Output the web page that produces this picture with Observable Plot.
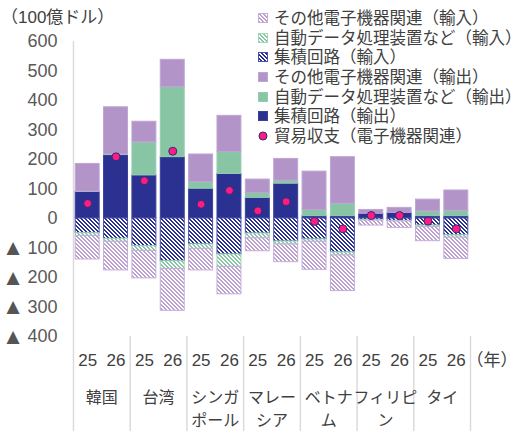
<!DOCTYPE html>
<html>
<head>
<meta charset="utf-8">
<script src="https://cdn.jsdelivr.net/npm/d3@7"></script>
<script src="https://cdn.jsdelivr.net/npm/@observablehq/plot@0.6"></script>
<style>
  body { margin: 0; background: #fff; }
  #chart { position: relative; width: 525px; height: 431px; font-family: "Liberation Sans", "Noto Sans CJK JP", sans-serif; }
  #chart > svg.plot { position: absolute; left: 0; top: 0; }
  .unit { position: absolute; left: 1px; top: 7px; font-size: 17px; color: #404040; line-height: 22px; }
  .legend { position: absolute; left: 258px; top: 8px; font-size: 16.5px; color: #404040; font-family: "Noto Sans CJK JP", sans-serif; }
  .legend .row { display: flex; align-items: center; height: 19.7px; white-space: nowrap; }
  .legend .row span { display: block; height: 19.7px; line-height: 19.7px; overflow: visible; }
  .legend svg { margin-right: 6px; flex: none; }
</style>
</head>
<body>
<svg width="0" height="0" style="position:absolute">
  <defs>
    <!-- pixel-aligned diagonal hatches, period 4px -->
    <pattern id="hatch-ic" patternUnits="userSpaceOnUse" width="4" height="4">
      <rect width="4" height="4" fill="#2b3191"></rect>
      <path d="M0,0h2v1h-2zM1,1h2v1h-2zM2,2h2v1h-2zM3,3h1v1h-1zM0,3h1v1h-1z" fill="#ffffff" shape-rendering="crispEdges"></path>
    </pattern>
    <pattern id="hatch-adp" patternUnits="userSpaceOnUse" width="4" height="4">
      <rect width="4" height="4" fill="#ffffff"></rect>
      <path d="M0,0h2v1h-2zM1,1h2v1h-2zM2,2h2v1h-2zM3,3h1v1h-1zM0,3h1v1h-1z" fill="#88c5a5" shape-rendering="crispEdges"></path>
    </pattern>
    <pattern id="hatch-other" patternUnits="userSpaceOnUse" width="4" height="4">
      <rect width="4" height="4" fill="#ffffff"></rect>
      <path d="M0,0h2v1h-2zM1,1h2v1h-2zM2,2h2v1h-2zM3,3h1v1h-1zM0,3h1v1h-1z" fill="#bb9fcf" shape-rendering="crispEdges"></path>
    </pattern>
  </defs>
</svg>
<div id="chart"></div>
<script>
// Countries (two years each) and years
const countries = ["韓国", "台湾", "シンガ\nポール", "マレー\nシア", "ベトナ\nム", "フィリピ\nン", "タイ"];
const years = ["25", "26"];
const unitLabel = "（100億ドル）";
const yearUnit = "（年）";

// Series, in stacking order (exports upward, imports downward)
const seriesNames = [
  "集積回路（輸出）",
  "自動データ処理装置など（輸出）",
  "その他電子機器関連（輸出）",
  "集積回路（輸入）",
  "自動データ処理装置など（輸入）",
  "その他電子機器関連（輸入）"
];
const balanceName = "貿易収支（電子機器関連）";

// Values in 100億ドル, bar order: 韓国25, 韓国26, 台湾25, 台湾26, ...
const icExport    = [90, 215, 146, 208, 101, 151, 70, 118, 8, 8, 16, 19, 8, 8];
const adpExport   = [1, 2, 112, 237, 22, 74, 16, 10, 21, 42, 0, 0, 16, 18];
const otherExport = [94, 160, 70, 93, 94, 123, 46, 74, 130, 158, 13, 17, 40, 69];
const icImport    = [50, 69, 94, 145, 88, 122, 51, 78, 71, 115, 5, 8, 24, 57];
const adpImport   = [9, 10, 16, 26, 15, 42, 16, 10, 8, 10, 2, 2, 5, 8];
const otherImport = [80, 97, 93, 142, 73, 93, 44, 60, 95, 121, 17, 22, 48, 72];
const balance     = [51, 209, 128, 228, 48, 95, 26, 57, -10, -35, 10, 10, -9, -35];

const yTicks = [-400, -300, -200, -100, 0, 100, 200, 300, 400, 500, 600];

// Styles per series
const navy = "#2b3191", green = "#88c5a5", purple = "#b294c8";
const seriesFill = [navy, green, purple, "url(#hatch-ic)", "url(#hatch-adp)", "url(#hatch-other)"];
const seriesStroke = ["#3a409a", "#96cdb0", "#c0a5d5", "#4a50a5", "#a3d5bb", "#c6aedb"];
const legendOrder = [5, 4, 3, 2, 1, 0];

const seriesValues = [
  icExport, adpExport, otherExport,
  icImport.map(v => -v), adpImport.map(v => -v), otherImport.map(v => -v)
];

const bars = countries.flatMap((c, ci) => years.map((y, yi) => ({i: ci * 2 + yi, country: c, year: y})));
const rows = bars.flatMap(b => seriesNames.map((s, k) => ({i: b.i, series: k, value: seriesValues[k][b.i]})));

const width = 525, height = 431;
const marginTop = 41, marginBottom = 95, marginLeft = 73, marginRight = 55;
const yMin = d3.min(yTicks), yMax = d3.max(yTicks);
// data value at the bottom edge of the svg, so separators run down through the labels
const yLow = yMin - marginBottom * (yMax - yMin) / (height - marginTop - marginBottom);
const nBars = bars.length;
const groupEdges = d3.range(0, countries.length + 1).map(c => c * years.length);

const fontFamily = "'Liberation Sans', 'Noto Sans CJK JP', sans-serif";

const chart = Plot.plot({
  width, height, marginTop, marginBottom, marginLeft, marginRight,
  style: {fontFamily, fontSize: "18px", color: "#595959", background: "transparent", overflow: "visible"},
  x: {domain: [0, nBars], axis: null},
  y: {
    domain: [yMin, yMax],
    ticks: yTicks,
    tickFormat: d => `${Math.abs(d)}`,
    tickSize: 0,
    tickPadding: 16,
    label: null
  },
  color: {type: "identity"},
  marks: [
    // negative-value marker in front of the tick labels below zero
    Plot.text(yTicks.filter(d => d < 0), {
      y: d => d, text: () => "▲", frameAnchor: "left", dx: -54,
      textAnchor: "end", fontFamily: "'DejaVu Sans', sans-serif", fontSize: 17, fill: "#555555"
    }),
    // left axis line and country separators
    Plot.ruleX([groupEdges[0]], {y1: yMax, y2: yLow, stroke: "#d9d9d9", strokeWidth: 1.4}),
    Plot.ruleX(groupEdges.slice(1), {y1: yMin, y2: yLow, stroke: "#d9d9d9", strokeWidth: 1.4}),
    Plot.rectY(rows, Plot.stackY({
      x1: d => d.i,
      x2: d => d.i + 1,
      y: "value",
      z: "series",
      fill: d => seriesFill[d.series],
      stroke: d => seriesStroke[d.series],
      strokeWidth: 1,
      insetLeft: 2.2,
      insetRight: 2.2
    })),
    Plot.dot(bars, {
      x: d => d.i + 0.5,
      y: d => balance[d.i],
      r: 4,
      fill: "#ff1a85",
      stroke: "#2e2f72",
      strokeWidth: 1
    }),
    // year labels
    Plot.text(bars, {
      x: d => d.i + 0.5, y: yMin, text: "year", dy: 24,
      fontSize: 17, fill: "#404040"
    }),
    Plot.text([yearUnit], {
      x: nBars, y: yMin, text: d => d, dy: 24, dx: -4,
      textAnchor: "start", fontSize: 17, fill: "#404040",
      fontFamily: "'Noto Sans CJK JP', sans-serif"
    }),
    // country labels
    Plot.text(countries, {
      x: (d, i) => i * years.length + years.length / 2,
      y: yMin, text: d => d, dy: 51,
      lineAnchor: "top", lineHeight: 1.4,
      fontSize: 16, fill: "#404040",
      fontFamily: "'Noto Sans CJK JP', sans-serif"
    })
  ]
});

const root = d3.select("#chart");
root.node().appendChild(chart);
root.append("div").attr("class", "unit").text(unitLabel);

// legend
const legend = root.append("div").attr("class", "legend");
for (const k of legendOrder) {
  const row = legend.append("div").attr("class", "row");
  const sw = row.append("svg").attr("width", 10).attr("height", 10);
  sw.append("rect").attr("x", 0.5).attr("y", 0.5).attr("width", 9).attr("height", 9)
    .attr("fill", seriesFill[k]).attr("stroke", seriesStroke[k]).attr("stroke-width", 1);
  row.append("span").text(seriesNames[k]);
}
{
  const row = legend.append("div").attr("class", "row");
  const sw = row.append("svg").attr("width", 10).attr("height", 10);
  sw.append("circle").attr("cx", 5).attr("cy", 5).attr("r", 4)
    .attr("fill", "#ff1a85").attr("stroke", "#2e2f72").attr("stroke-width", 1);
  row.append("span").text(balanceName);
}
</script>
</body>
</html>
